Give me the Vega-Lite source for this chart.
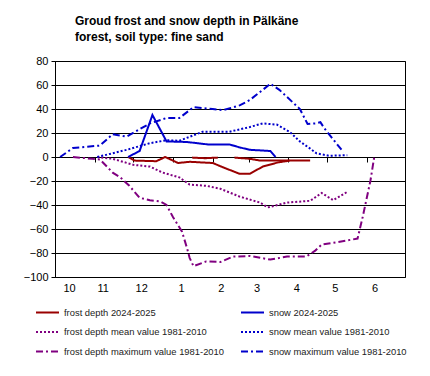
{
  "$schema": "https://vega.github.io/schema/vega-lite/v6.json",
  "width": 350,
  "height": 216,
  "autosize": {"type": "none"},
  "padding": {"left": 55, "top": 61, "right": 25, "bottom": 99},
  "background": "white",
  "config": {
    "font": "Liberation Sans",
    "view": {"stroke": "black", "strokeWidth": 1}
  },
  "title": {
    "text": ["Groud frost and snow depth in Pälkäne", "forest, soil type: fine sand"],
    "anchor": "start",
    "frame": "group",
    "dx": 20,
    "offset": 11,
    "fontSize": 12,
    "fontWeight": "bold",
    "color": "black",
    "lineHeight": 16
  },
  "data": {"values": [
    {"s": "frost depth 2024-2025", "g": "Fa", "d": 57, "v": 0},
    {"s": "frost depth 2024-2025", "g": "Fa", "d": 62, "v": -3},
    {"s": "frost depth 2024-2025", "g": "Fa", "d": 79, "v": -3.5},
    {"s": "frost depth 2024-2025", "g": "Fa", "d": 86, "v": 0},
    {"s": "frost depth 2024-2025", "g": "Fa", "d": 96, "v": -5},
    {"s": "frost depth 2024-2025", "g": "Fa", "d": 105, "v": -4},
    {"s": "frost depth 2024-2025", "g": "Fa", "d": 123, "v": -5},
    {"s": "frost depth 2024-2025", "g": "Fa", "d": 132, "v": -9},
    {"s": "frost depth 2024-2025", "g": "Fa", "d": 144, "v": -14},
    {"s": "frost depth 2024-2025", "g": "Fa", "d": 152, "v": -14},
    {"s": "frost depth 2024-2025", "g": "Fa", "d": 162, "v": -8},
    {"s": "frost depth 2024-2025", "g": "Fa", "d": 174, "v": -4.5},
    {"s": "frost depth 2024-2025", "g": "Fa", "d": 183, "v": -3},
    {"s": "frost depth 2024-2025", "g": "Fb", "d": 107, "v": -0.5},
    {"s": "frost depth 2024-2025", "g": "Fb", "d": 117, "v": -1},
    {"s": "frost depth 2024-2025", "g": "Fb", "d": 127, "v": -0.5},
    {"s": "frost depth 2024-2025", "g": "Fc", "d": 140, "v": -0.5},
    {"s": "frost depth 2024-2025", "g": "Fc", "d": 152, "v": -1.5},
    {"s": "frost depth 2024-2025", "g": "Fc", "d": 160, "v": -3},
    {"s": "frost depth 2024-2025", "g": "Fc", "d": 199, "v": -3},

    {"s": "snow 2024-2025", "g": "S", "d": 57, "v": 0},
    {"s": "snow 2024-2025", "g": "S", "d": 66, "v": 5},
    {"s": "snow 2024-2025", "g": "S", "d": 76, "v": 35},
    {"s": "snow 2024-2025", "g": "S", "d": 87, "v": 13},
    {"s": "snow 2024-2025", "g": "S", "d": 103, "v": 12.5},
    {"s": "snow 2024-2025", "g": "S", "d": 119, "v": 10.5},
    {"s": "snow 2024-2025", "g": "S", "d": 136, "v": 10.5},
    {"s": "snow 2024-2025", "g": "S", "d": 144, "v": 8},
    {"s": "snow 2024-2025", "g": "S", "d": 152, "v": 6},
    {"s": "snow 2024-2025", "g": "S", "d": 168, "v": 5},
    {"s": "snow 2024-2025", "g": "S", "d": 172, "v": 0},

    {"s": "frost depth mean value 1981-2010", "g": "FM", "d": 33, "v": 0},
    {"s": "frost depth mean value 1981-2010", "g": "FM", "d": 45, "v": -1.5},
    {"s": "frost depth mean value 1981-2010", "g": "FM", "d": 61, "v": -6.5},
    {"s": "frost depth mean value 1981-2010", "g": "FM", "d": 74, "v": -8},
    {"s": "frost depth mean value 1981-2010", "g": "FM", "d": 84, "v": -13},
    {"s": "frost depth mean value 1981-2010", "g": "FM", "d": 97, "v": -17},
    {"s": "frost depth mean value 1981-2010", "g": "FM", "d": 105, "v": -23},
    {"s": "frost depth mean value 1981-2010", "g": "FM", "d": 118, "v": -24},
    {"s": "frost depth mean value 1981-2010", "g": "FM", "d": 129, "v": -26.5},
    {"s": "frost depth mean value 1981-2010", "g": "FM", "d": 144, "v": -33},
    {"s": "frost depth mean value 1981-2010", "g": "FM", "d": 160, "v": -38},
    {"s": "frost depth mean value 1981-2010", "g": "FM", "d": 166, "v": -42},
    {"s": "frost depth mean value 1981-2010", "g": "FM", "d": 181, "v": -38},
    {"s": "frost depth mean value 1981-2010", "g": "FM", "d": 199, "v": -36.5},
    {"s": "frost depth mean value 1981-2010", "g": "FM", "d": 208, "v": -30},
    {"s": "frost depth mean value 1981-2010", "g": "FM", "d": 217, "v": -36},
    {"s": "frost depth mean value 1981-2010", "g": "FM", "d": 228, "v": -29},

    {"s": "snow mean value 1981-2010", "g": "SM", "d": 33, "v": 0},
    {"s": "snow mean value 1981-2010", "g": "SM", "d": 56, "v": 6},
    {"s": "snow mean value 1981-2010", "g": "SM", "d": 74, "v": 11.5},
    {"s": "snow mean value 1981-2010", "g": "SM", "d": 87, "v": 14},
    {"s": "snow mean value 1981-2010", "g": "SM", "d": 97, "v": 13.5},
    {"s": "snow mean value 1981-2010", "g": "SM", "d": 115, "v": 21},
    {"s": "snow mean value 1981-2010", "g": "SM", "d": 136, "v": 21},
    {"s": "snow mean value 1981-2010", "g": "SM", "d": 152, "v": 25},
    {"s": "snow mean value 1981-2010", "g": "SM", "d": 162, "v": 28},
    {"s": "snow mean value 1981-2010", "g": "SM", "d": 173, "v": 27},
    {"s": "snow mean value 1981-2010", "g": "SM", "d": 183, "v": 21},
    {"s": "snow mean value 1981-2010", "g": "SM", "d": 191, "v": 13},
    {"s": "snow mean value 1981-2010", "g": "SM", "d": 199, "v": 7},
    {"s": "snow mean value 1981-2010", "g": "SM", "d": 204, "v": 3},
    {"s": "snow mean value 1981-2010", "g": "SM", "d": 214, "v": 1},
    {"s": "snow mean value 1981-2010", "g": "SM", "d": 228, "v": 1.5},

    {"s": "frost depth maximum value 1981-2010", "g": "FX", "d": 14, "v": 0},
    {"s": "frost depth maximum value 1981-2010", "g": "FX", "d": 29, "v": -1.5},
    {"s": "frost depth maximum value 1981-2010", "g": "FX", "d": 35, "v": -2},
    {"s": "frost depth maximum value 1981-2010", "g": "FX", "d": 45, "v": -13},
    {"s": "frost depth maximum value 1981-2010", "g": "FX", "d": 51, "v": -17},
    {"s": "frost depth maximum value 1981-2010", "g": "FX", "d": 58, "v": -24},
    {"s": "frost depth maximum value 1981-2010", "g": "FX", "d": 66, "v": -34},
    {"s": "frost depth maximum value 1981-2010", "g": "FX", "d": 74, "v": -36},
    {"s": "frost depth maximum value 1981-2010", "g": "FX", "d": 82, "v": -37},
    {"s": "frost depth maximum value 1981-2010", "g": "FX", "d": 87, "v": -40},
    {"s": "frost depth maximum value 1981-2010", "g": "FX", "d": 92, "v": -50},
    {"s": "frost depth maximum value 1981-2010", "g": "FX", "d": 99, "v": -62},
    {"s": "frost depth maximum value 1981-2010", "g": "FX", "d": 103, "v": -76},
    {"s": "frost depth maximum value 1981-2010", "g": "FX", "d": 105, "v": -84},
    {"s": "frost depth maximum value 1981-2010", "g": "FX", "d": 108, "v": -91},
    {"s": "frost depth maximum value 1981-2010", "g": "FX", "d": 118, "v": -87},
    {"s": "frost depth maximum value 1981-2010", "g": "FX", "d": 129, "v": -87.5},
    {"s": "frost depth maximum value 1981-2010", "g": "FX", "d": 139, "v": -83},
    {"s": "frost depth maximum value 1981-2010", "g": "FX", "d": 152, "v": -82.5},
    {"s": "frost depth maximum value 1981-2010", "g": "FX", "d": 168, "v": -85.5},
    {"s": "frost depth maximum value 1981-2010", "g": "FX", "d": 181, "v": -83},
    {"s": "frost depth maximum value 1981-2010", "g": "FX", "d": 196, "v": -83},
    {"s": "frost depth maximum value 1981-2010", "g": "FX", "d": 203, "v": -78},
    {"s": "frost depth maximum value 1981-2010", "g": "FX", "d": 208, "v": -73},
    {"s": "frost depth maximum value 1981-2010", "g": "FX", "d": 220, "v": -71},
    {"s": "frost depth maximum value 1981-2010", "g": "FX", "d": 236, "v": -68},
    {"s": "frost depth maximum value 1981-2010", "g": "FX", "d": 240, "v": -50},
    {"s": "frost depth maximum value 1981-2010", "g": "FX", "d": 246, "v": -20},
    {"s": "frost depth maximum value 1981-2010", "g": "FX", "d": 249, "v": 0},

    {"s": "snow maximum value 1981-2010", "g": "SX", "d": 4, "v": 0},
    {"s": "snow maximum value 1981-2010", "g": "SX", "d": 14, "v": 7.5},
    {"s": "snow maximum value 1981-2010", "g": "SX", "d": 35, "v": 9.5},
    {"s": "snow maximum value 1981-2010", "g": "SX", "d": 45, "v": 19},
    {"s": "snow maximum value 1981-2010", "g": "SX", "d": 56, "v": 17},
    {"s": "snow maximum value 1981-2010", "g": "SX", "d": 74, "v": 28},
    {"s": "snow maximum value 1981-2010", "g": "SX", "d": 87, "v": 32.5},
    {"s": "snow maximum value 1981-2010", "g": "SX", "d": 97, "v": 32.5},
    {"s": "snow maximum value 1981-2010", "g": "SX", "d": 108, "v": 41.5},
    {"s": "snow maximum value 1981-2010", "g": "SX", "d": 123, "v": 40},
    {"s": "snow maximum value 1981-2010", "g": "SX", "d": 131, "v": 39},
    {"s": "snow maximum value 1981-2010", "g": "SX", "d": 144, "v": 43},
    {"s": "snow maximum value 1981-2010", "g": "SX", "d": 152, "v": 47.5},
    {"s": "snow maximum value 1981-2010", "g": "SX", "d": 168, "v": 61},
    {"s": "snow maximum value 1981-2010", "g": "SX", "d": 175, "v": 56},
    {"s": "snow maximum value 1981-2010", "g": "SX", "d": 186, "v": 45},
    {"s": "snow maximum value 1981-2010", "g": "SX", "d": 191, "v": 40},
    {"s": "snow maximum value 1981-2010", "g": "SX", "d": 197, "v": 27.5},
    {"s": "snow maximum value 1981-2010", "g": "SX", "d": 203, "v": 28},
    {"s": "snow maximum value 1981-2010", "g": "SX", "d": 207, "v": 29},
    {"s": "snow maximum value 1981-2010", "g": "SX", "d": 210, "v": 24},
    {"s": "snow maximum value 1981-2010", "g": "SX", "d": 216, "v": 16},
    {"s": "snow maximum value 1981-2010", "g": "SX", "d": 225, "v": 4}
  ]},
  "resolve": {"axis": {"x": "independent"}},
  "layer": [
    {
      "mark": {"type": "line", "strokeWidth": 2, "clip": true},
      "encoding": {
        "x": {
          "field": "d", "type": "quantitative",
          "scale": {"domain": [0, 273], "nice": false, "zero": false},
          "axis": {
            "title": null,
            "values": [0, 31, 61, 92, 123, 151, 182, 212, 243],
            "labelExpr": "({0:'10',31:'11',61:'12',92:'1',123:'2',151:'3',182:'4',212:'5',243:'6'})[datum.value]",
            "labelOffset": 8,
            "labelFontSize": 11,
            "labelColor": "black",
            "labelPadding": 5,
            "ticks": false,
            "domain": false,
            "grid": false
          }
        },
        "y": {
          "field": "v", "type": "quantitative",
          "scale": {"domain": [-100, 80], "nice": false},
          "axis": {
            "title": null,
            "values": [-100, -80, -60, -40, -20, 0, 20, 40, 60, 80],
            "labelFontSize": 11,
            "labelColor": "black",
            "labelPadding": 3,
            "tickSize": 4,
            "tickColor": "black",
            "domainColor": "black",
            "grid": true,
            "gridColor": "black",
            "gridOpacity": 1
          }
        },
        "detail": {"field": "g"},
        "color": {
          "field": "s", "type": "nominal",
          "scale": {
            "domain": ["frost depth 2024-2025", "frost depth mean value 1981-2010", "frost depth maximum value 1981-2010", "snow 2024-2025", "snow mean value 1981-2010", "snow maximum value 1981-2010"],
            "range": ["#990000", "#800080", "#800080", "#0000CC", "#0000CC", "#0000CC"]
          },
          "legend": {
            "title": null,
            "orient": "none",
            "legendX": -20,
            "legendY": 239,
            "columns": 2,
            "columnPadding": 13,
            "rowPadding": 2.5,
            "symbolType": "stroke",
            "symbolSize": 529,
            "symbolStrokeWidth": 2,
            "labelFontSize": 9.4,
            "labelColor": "#222",
            "labelOffset": 4,
            "labelLimit": 250
          }
        },
        "strokeDash": {
          "field": "s", "type": "nominal",
          "scale": {
            "domain": ["frost depth 2024-2025", "frost depth mean value 1981-2010", "frost depth maximum value 1981-2010", "snow 2024-2025", "snow mean value 1981-2010", "snow maximum value 1981-2010"],
            "range": [[1, 0], [2, 2], [7, 3, 2, 3], [1, 0], [2, 2], [7, 3, 2, 3]]
          },
          "legend": null
        }
      }
    },
    {
      "mark": {"type": "point", "opacity": 0},
      "encoding": {
        "x": {
          "field": "d", "type": "quantitative",
          "axis": {
            "title": null,
            "orient": "bottom",
            "offset": -120,
            "values": [31, 61, 92, 123, 151, 182, 212, 243],
            "labels": false,
            "domain": false,
            "grid": false,
            "ticks": true,
            "tickSize": 5,
            "tickColor": "black",
            "tickWidth": 1
          }
        }
      }
    }
  ]
}
